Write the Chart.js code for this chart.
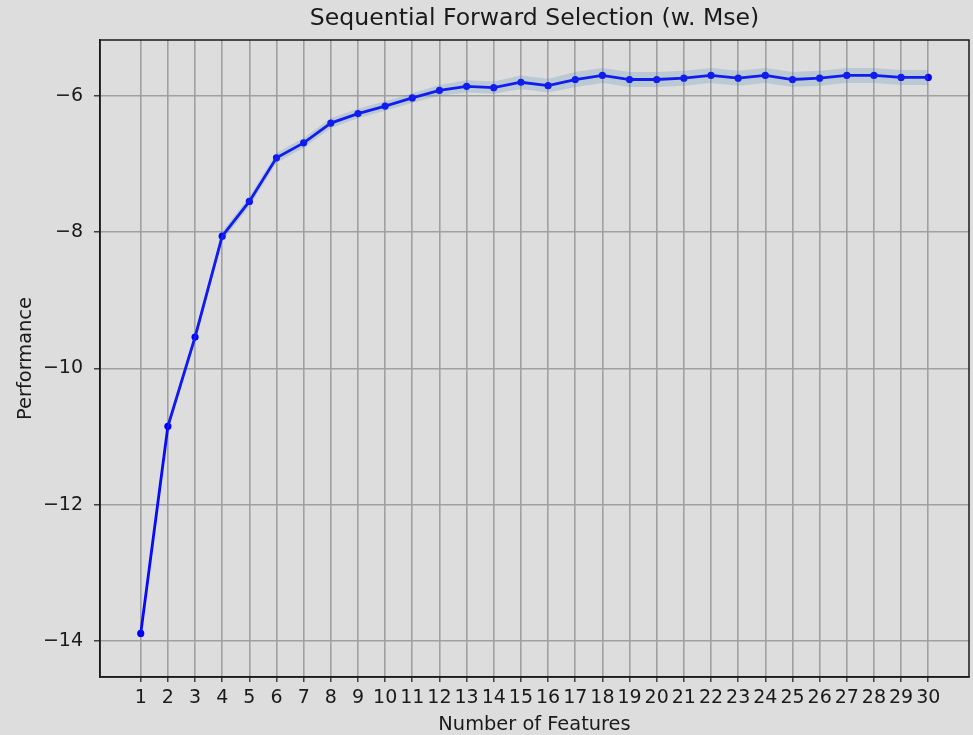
<!DOCTYPE html>
<html>
<head>
<meta charset="utf-8">
<script src="https://cdn.jsdelivr.net/npm/chart.js@4.4.0/dist/chart.umd.min.js"></script>
<style>
  html, body { margin: 0; padding: 0; background: #dddddd; }
  #wrap { width: 973px; height: 735px; position: relative; }
</style>
</head>
<body>
<div id="wrap"><canvas id="c" width="973" height="735"></canvas></div>
<script>
const numFeatures = [1,2,3,4,5,6,7,8,9,10,11,12,13,14,15,16,17,18,19,20,21,22,23,24,25,26,27,28,29,30];
const performance = [-13.89, -10.85, -9.54, -8.06, -7.55, -6.91, -6.69, -6.40, -6.26, -6.15,
                     -6.03, -5.92, -5.86, -5.88, -5.80, -5.85, -5.76, -5.70, -5.76, -5.76,
                     -5.74, -5.70, -5.74, -5.70, -5.76, -5.74, -5.70, -5.70, -5.73, -5.73];
const stdDev = [0.04, 0.05, 0.06, 0.07, 0.07, 0.07, 0.07, 0.07, 0.07, 0.07,
                0.07, 0.08, 0.09, 0.09, 0.10, 0.10, 0.11, 0.11, 0.11, 0.11,
                0.11, 0.11, 0.11, 0.11, 0.11, 0.11, 0.11, 0.11, 0.11, 0.11];
const yTicks = [-14, -12, -10, -8, -6];
const chartTitle = 'Sequential Forward Selection (w. Mse)';

const meanPts = numFeatures.map((n, i) => ({x: n, y: performance[i]}));
const upperPts = numFeatures.map((n, i) => ({x: n, y: performance[i] + stdDev[i]}));
const lowerPts = numFeatures.map((n, i) => ({x: n, y: performance[i] - stdDev[i]}));

const frame = {
  id: 'frame',
  afterDraw(chart) {
    const {ctx, chartArea: a} = chart;
    ctx.save();
    ctx.strokeStyle = '#1a1a1a';
    ctx.lineWidth = 1.5;
    ctx.strokeRect(a.left, a.top, a.right - a.left, a.bottom - a.top);
    ctx.restore();
  }
};

const FONT = "'DejaVu Sans', sans-serif";
const fmt = v => (v < 0 ? '\u2212' + Math.abs(v) : String(v));

new Chart(document.getElementById('c'), {
  type: 'line',
  data: {
    datasets: [
      { data: upperPts, borderWidth: 0, pointRadius: 0, fill: '+1',
        backgroundColor: 'rgba(70,130,180,0.22)', borderColor: 'rgba(0,0,0,0)', tension: 0 },
      { data: lowerPts, borderWidth: 0, pointRadius: 0, fill: false,
        borderColor: 'rgba(0,0,0,0)', tension: 0 },
      { data: meanPts, borderColor: '#0000ff', backgroundColor: '#0000ff',
        borderWidth: 2.8, pointRadius: 3.6, pointBorderWidth: 0, fill: false, tension: 0 }
    ]
  },
  options: {
    responsive: false,
    animation: false,
    events: [],
    layout: { padding: { left: 0, right: 1.5, top: 0, bottom: 0 } },
    plugins: {
      legend: { display: false },
      tooltip: { enabled: false },
      title: { display: false }
    },
    scales: {
      x: {
        type: 'linear',
        min: -0.5, max: 31.5,
        afterBuildTicks: s => { s.ticks = numFeatures.map(v => ({value: v})); },
        afterFit: s => { s.height = 58; },
        ticks: { color: '#1a1a1a', font: { family: FONT, size: 19 }, padding: 4.5,
                 maxRotation: 0, autoSkip: false, callback: v => String(v) },
        grid: { color: '#a0a0a0', lineWidth: 1.6, drawTicks: true, tickLength: 5, tickColor: '#1a1a1a', tickWidth: 1.2 },
        border: { display: true, color: '#1a1a1a', width: 1.5 },
        title: { display: true, text: 'Number of Features', color: '#1a1a1a',
                 font: { family: FONT, size: 19.4, lineHeight: 1 }, padding: { top: 0, bottom: 0 } }
      },
      xTitle: {
        type: 'linear',
        position: 'top',
        min: -0.5, max: 31.5,
        afterBuildTicks: s => { s.ticks = []; },
        afterFit: s => { s.height = 40; },
        ticks: { display: false },
        grid: { display: false, drawTicks: false },
        border: { display: false },
        title: { display: true, text: chartTitle, color: '#1a1a1a',
                 font: { family: FONT, size: 23.6, lineHeight: 1 }, padding: { top: 7.5, bottom: 0 } }
      },
      y: {
        type: 'linear',
        min: -14.53, max: -5.18,
        afterBuildTicks: s => { s.ticks = yTicks.map(v => ({value: v})); },
        afterFit: s => { s.width = 100; },
        ticks: { color: '#1a1a1a', font: { family: FONT, size: 19 }, padding: 11,
                 callback: v => fmt(v) },
        grid: { color: '#a0a0a0', lineWidth: 1.6, drawTicks: true, tickLength: 6, tickColor: '#1a1a1a', tickWidth: 1.2 },
        border: { display: true, color: '#1a1a1a', width: 1.5 },
        title: { display: true, text: 'Performance', color: '#1a1a1a',
                 font: { family: FONT, size: 19.4, lineHeight: 1 }, padding: { top: 16, bottom: 0 } }
      }
    }
  },
  plugins: [frame]
});
</script>
</body>
</html>
